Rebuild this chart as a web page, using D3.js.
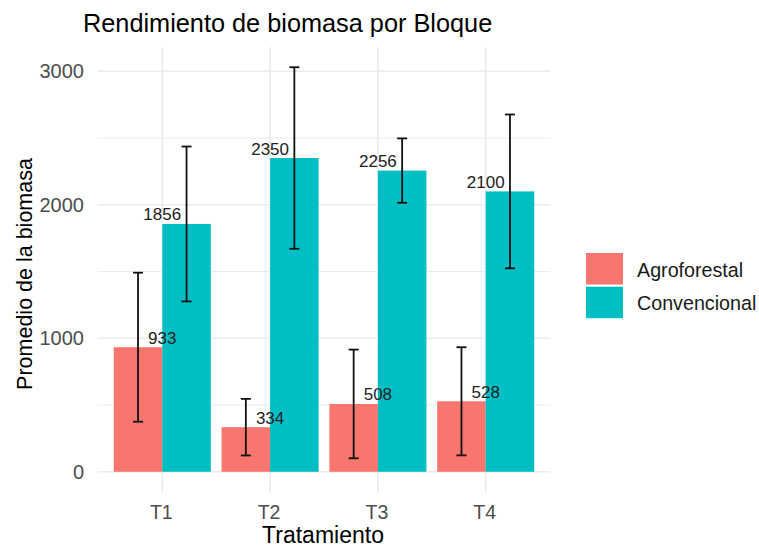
<!DOCTYPE html>
<html>
<head>
<meta charset="utf-8">
<script src="https://cdn.jsdelivr.net/npm/d3@7"></script>
<style>
  html, body { margin: 0; padding: 0; background: #fff; }
  svg { display: block; font-family: "Liberation Sans", Arial, sans-serif; }
</style>
</head>
<body>
<svg id="chart" width="759" height="546"></svg>
<script>
const categories = ["T1", "T2", "T3", "T4"];
const seriesNames = ["Agroforestal", "Convencional"];
const agroforestal = [933, 334, 508, 528];
const convencional = [1856, 2350, 2256, 2100];
const agroforestalErr = [558, 212, 407, 405];
const convencionalErr = [580, 680, 241, 576];
const yTicks = [0, 1000, 2000, 3000];
const yMinorTicks = [500, 1500, 2500];
const colors = ["#F8766D", "#00BFC4"];

const values = [agroforestal, convencional];
const errs = [agroforestalErr, convencionalErr];

const svg = d3.select("#chart");
const panel = { left: 97.6, right: 550.4, top: 47, bottom: 492 };

const maxVal = d3.max(values.flatMap((v, s) => v.map((d, i) => d + errs[s][i])));
const pad = 0.05 * maxVal;
const y = d3.scaleLinear().domain([0 - pad, maxVal + pad]).range([panel.bottom, panel.top]);
const x = d3.scalePoint().domain(categories).range([panel.left, panel.right]).padding(0.6);
const step = x.step();
const xSub = d3.scaleBand().domain(seriesNames).range([-0.45 * step, 0.45 * step]);

// grid
const grid = svg.append("g");
grid.selectAll(".minor").data(yMinorTicks).join("line")
  .attr("x1", panel.left).attr("x2", panel.right)
  .attr("y1", d => y(d)).attr("y2", d => y(d))
  .attr("stroke", "#EBEBEB").attr("stroke-width", 1);
grid.selectAll(".major").data(yTicks).join("line")
  .attr("x1", panel.left).attr("x2", panel.right)
  .attr("y1", d => y(d)).attr("y2", d => y(d))
  .attr("stroke", "#EBEBEB").attr("stroke-width", 1.7);
grid.selectAll(".vmajor").data(categories).join("line")
  .attr("x1", d => x(d)).attr("x2", d => x(d))
  .attr("y1", panel.top).attr("y2", panel.bottom)
  .attr("stroke", "#EBEBEB").attr("stroke-width", 1.7);

// bars
const rows = [];
categories.forEach((c, i) => {
  seriesNames.forEach((s, si) => {
    rows.push({ cat: c, series: s, si, value: values[si][i], err: errs[si][i] });
  });
});

svg.append("g").selectAll("rect").data(rows).join("rect")
  .attr("x", d => x(d.cat) + xSub(d.series))
  .attr("width", xSub.bandwidth())
  .attr("y", d => y(d.value))
  .attr("height", d => y(0) - y(d.value))
  .attr("fill", d => colors[d.si]);

// error bars
const capHalf = 5;
const eb = svg.append("g").attr("stroke", "#111").attr("stroke-width", 1.8);
rows.forEach(d => {
  const cx = x(d.cat) + xSub(d.series) + xSub.bandwidth() / 2;
  eb.append("line").attr("x1", cx).attr("x2", cx).attr("y1", y(d.value - d.err)).attr("y2", y(d.value + d.err));
  eb.append("line").attr("x1", cx - capHalf).attr("x2", cx + capHalf).attr("y1", y(d.value + d.err)).attr("y2", y(d.value + d.err));
  eb.append("line").attr("x1", cx - capHalf).attr("x2", cx + capHalf).attr("y1", y(d.value - d.err)).attr("y2", y(d.value - d.err));
});

// value labels (centered on group)
svg.append("g").selectAll("text").data(rows).join("text")
  .attr("x", d => x(d.cat))
  .attr("y", d => y(d.value) - 3.5)
  .attr("text-anchor", "middle")
  .attr("font-size", 17)
  .attr("fill", "#222")
  .text(d => d.value);

// y tick labels
svg.append("g").selectAll("text").data(yTicks).join("text")
  .attr("x", 84).attr("y", d => y(d) + 7)
  .attr("text-anchor", "end")
  .attr("font-size", 20)
  .attr("fill", "#4D4D4D")
  .text(d => d);

// x tick labels
svg.append("g").selectAll("text").data(categories).join("text")
  .attr("x", d => x(d) - 1).attr("y", 518.5)
  .attr("text-anchor", "middle")
  .attr("font-size", 19.5)
  .attr("fill", "#4D4D4D")
  .text(d => d);

// axis titles
svg.append("text")
  .attr("x", (panel.left + panel.right) / 2 - 1).attr("y", 542.5)
  .attr("text-anchor", "middle").attr("font-size", 23).attr("fill", "#000")
  .text("Tratamiento");
svg.append("text")
  .attr("transform", "translate(32,274) rotate(-90)")
  .attr("text-anchor", "middle").attr("font-size", 21.5).attr("fill", "#000")
  .text("Promedio de la biomasa");

// title
svg.append("text")
  .attr("x", 83).attr("y", 31.5)
  .attr("font-size", 25.3).attr("fill", "#000")
  .text("Rendimiento de biomasa por Bloque");

// legend
const lg = svg.append("g");
seriesNames.forEach((s, i) => {
  lg.append("rect").attr("x", 586).attr("y", 253 + i * 33.7).attr("width", 37).attr("height", 31.5).attr("fill", colors[i]);
  lg.append("text").attr("x", 637).attr("y", 277 + i * 33.3)
    .attr("font-size", 19.7).attr("fill", "#1a1a1a").text(s);
});
</script>
</body>
</html>
